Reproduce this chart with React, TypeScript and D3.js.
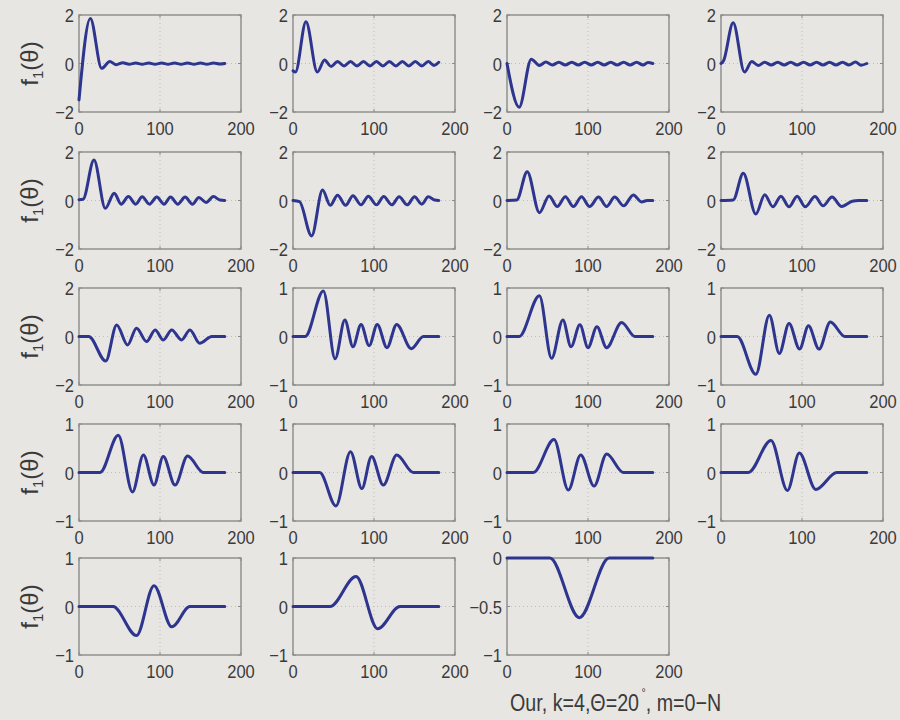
import React from 'react';
import * as d3 from 'd3';

type Pt = [number, number];

// f_1(theta) for m = 0 .. 18, key points [theta (deg), value]
const m0: Pt[] = [[0, -1.5], [14, 1.86], [28, -0.2], [38, 0.08], [46, -0.05], [54, 0.03], [62, -0.03], [70, 0.02], [78, -0.03], [86, 0.02], [94, -0.03], [102, 0.02], [110, -0.03], [118, 0.02], [126, -0.03], [134, 0.02], [142, -0.03], [150, 0.02], [158, -0.03], [166, 0.02], [174, -0.02], [180, 0]];
const m1: Pt[] = [[0, -0.3], [3, -0.35], [16, 1.72], [30, -0.35], [39, 0.14], [47, -0.12], [55, 0.08], [63, -0.1], [71, 0.08], [79, -0.1], [87, 0.08], [95, -0.1], [103, 0.08], [111, -0.1], [119, 0.08], [127, -0.1], [135, 0.08], [143, -0.1], [151, 0.08], [159, -0.1], [167, 0.08], [174, -0.08], [180, 0.05]];
const m2: Pt[] = [[0, 0], [15, -1.8], [30, 0.18], [40, -0.08], [48, 0.06], [56, -0.06], [64, 0.05], [72, -0.06], [80, 0.05], [88, -0.06], [96, 0.05], [104, -0.06], [112, 0.05], [120, -0.06], [128, 0.05], [136, -0.06], [144, 0.05], [152, -0.06], [160, 0.05], [168, -0.06], [174, 0.04], [180, 0]];
const m3: Pt[] = [[0, 0], [3, 0.1], [15, 1.68], [29, -0.35], [38, 0.08], [46, -0.08], [54, 0.05], [62, -0.06], [70, 0.05], [78, -0.06], [86, 0.05], [94, -0.06], [102, 0.05], [110, -0.06], [118, 0.05], [126, -0.06], [134, 0.05], [142, -0.06], [150, 0.05], [158, -0.06], [166, 0.06], [173, -0.07], [180, 0]];
const m4: Pt[] = [[0, 0.03], [5, 0.05], [18.5, 1.67], [32.5, -0.32], [43.5, 0.3], [52, -0.15], [61, 0.16], [70, -0.15], [78, 0.15], [87, -0.15], [96, 0.14], [105, -0.15], [113, 0.14], [122, -0.15], [131, 0.14], [140, -0.15], [148, 0.12], [157, -0.08], [166, 0.16], [174, 0.02], [180, 0]];
const m5: Pt[] = [[0, 0], [8, -0.05], [23, -1.46], [36.5, 0.43], [46, -0.2], [55, 0.22], [65, -0.2], [74, 0.2], [84, -0.18], [93, 0.18], [103, -0.18], [112, 0.16], [122, -0.18], [131, 0.15], [141, -0.18], [150, 0.15], [159, -0.15], [167, 0.15], [175, 0.02], [180, 0]];
const m6: Pt[] = [[0, 0], [12, 0.02], [25, 1.19], [40, -0.5], [52, 0.19], [62, -0.25], [72, 0.15], [82, -0.25], [92, 0.15], [102, -0.25], [113, 0.14], [123, -0.25], [133, 0.14], [144, -0.22], [156, 0.23], [166, -0.06], [173, 0], [180, 0]];
const m7: Pt[] = [[0, 0], [15, 0.02], [27.5, 1.12], [43, -0.56], [54, 0.24], [64, -0.26], [74, 0.18], [84, -0.26], [94, 0.18], [104, -0.26], [116, 0.16], [126, -0.22], [137, 0.14], [149, -0.25], [162, -0.03], [170, 0], [180, 0]];
const m8: Pt[] = [[0, 0], [12, 0], [33, -1.01], [46.5, 0.47], [60, -0.35], [71, 0.34], [83.5, -0.21], [94, 0.27], [104, -0.14], [114.5, 0.27], [126.5, -0.14], [137, 0.27], [149, -0.28], [164, 0], [180, 0]];
const m9: Pt[] = [[0, 0], [15, 0], [37.5, 0.94], [52, -0.46], [64, 0.34], [74, -0.21], [84, 0.25], [94, -0.19], [104, 0.25], [116, -0.23], [128, 0.25], [146, -0.25], [161, 0], [180, 0]];
const m10: Pt[] = [[0, 0], [15, 0], [40, 0.84], [55, -0.45], [69, 0.34], [79, -0.21], [90, 0.24], [100, -0.23], [111, 0.2], [123, -0.23], [141.5, 0.29], [158, 0], [180, 0]];
const m11: Pt[] = [[0, 0], [20, 0], [43, -0.78], [59.7, 0.44], [72, -0.35], [84, 0.27], [97, -0.26], [108, 0.22], [121, -0.26], [135, 0.3], [153, 0], [180, 0]];
const m12: Pt[] = [[0, 0], [26, 0], [48.5, 0.77], [66, -0.4], [79.5, 0.36], [92.6, -0.26], [104, 0.33], [118.6, -0.26], [134, 0.34], [153.5, 0], [180, 0]];
const m13: Pt[] = [[0, 0], [33, 0], [53, -0.69], [71, 0.43], [85, -0.33], [97, 0.33], [111.5, -0.26], [128, 0.36], [148.6, 0], [180, 0]];
const m14: Pt[] = [[0, 0], [32.5, 0], [58, 0.68], [75.7, -0.36], [91, 0.36], [107.5, -0.28], [123, 0.38], [143.6, 0], [180, 0]];
const m15: Pt[] = [[0, 0], [33.7, 0], [61.7, 0.66], [82, -0.37], [96.7, 0.4], [117, -0.35], [143, 0], [180, 0]];
const m16: Pt[] = [[0, 0], [42, 0], [71, -0.6], [92.6, 0.43], [114.5, -0.42], [137, 0], [180, 0]];
const m17: Pt[] = [[0, 0], [45.7, 0], [77.8, 0.62], [104.6, -0.46], [132, 0], [180, 0]];
const m18: Pt[] = [[0, 0], [53, 0], [89.3, -0.615], [126, 0], [180, 0]];

const curves = [m0, m1, m2, m3, m4, m5, m6, m7, m8, m9, m10, m11, m12, m13, m14, m15, m16, m17, m18];

const xDomain: [number, number] = [0, 200];
const xTicks = [0, 100, 200];
const yDomains: [number, number][] = [
  [-2, 2], [-2, 2], [-2, 2], [-2, 2],
  [-2, 2], [-2, 2], [-2, 2], [-2, 2],
  [-2, 2], [-1, 1], [-1, 1], [-1, 1],
  [-1, 1], [-1, 1], [-1, 1], [-1, 1],
  [-1, 1], [-1, 1], [-1, 0],
];
const yTickSets: number[][] = yDomains.map(d => (d[1] === 0 ? [-1, -0.5, 0] : [d[0], 0, d[1]]));

const caption = 'Our, k=4,\u0398=20';

// layout
const W = 900;
const H = 720;
const colLeft = [79, 293, 507, 721];
const rowTop = [15, 152, 288, 424, 558];
const boxW = 162;
const boxH = 97;
const FONT = '"Liberation Sans", Arial, Helvetica, sans-serif';
const LINE = '#2d358e';
const BOX = '#8a8a88';
const TEXT = '#3a3a3a';

const fmt = (v: number) => String(v).replace('-', '\u2212');

function Panel({ data, yDomain, yTicks, left, top }: { data: Pt[]; yDomain: [number, number]; yTicks: number[]; left: number; top: number }) {
  const x = d3.scaleLinear().domain(xDomain).range([left, left + boxW]);
  const y = d3.scaleLinear().domain(yDomain).range([top + boxH, top]);
  const line = d3.line<Pt>().x(d => x(d[0])).y(d => y(d[1])).curve(d3.curveMonotoneX);
  const bottom = top + boxH;
  return (
    <g>
      {/* dotted grid */}
      {xTicks.filter(t => t !== xDomain[0] && t !== xDomain[1]).map(t => (
        <line key={'gx' + t} x1={x(t)} x2={x(t)} y1={top} y2={bottom} stroke="#bdbdbb" strokeWidth={1} strokeDasharray="1,3" />
      ))}
      {yTicks.filter(t => t !== yDomain[0] && t !== yDomain[1]).map(t => (
        <line key={'gy' + t} x1={left} x2={left + boxW} y1={y(t)} y2={y(t)} stroke="#bdbdbb" strokeWidth={1} strokeDasharray="1,3" />
      ))}
      <rect x={left} y={top} width={boxW} height={boxH} fill="none" stroke={BOX} strokeWidth={1.4} />
      {/* inward ticks */}
      {xTicks.map(t => (
        <g key={'tx' + t}>
          <line x1={x(t)} x2={x(t)} y1={bottom} y2={bottom - 3} stroke={BOX} />
          <line x1={x(t)} x2={x(t)} y1={top} y2={top + 3} stroke={BOX} />
        </g>
      ))}
      {yTicks.map(t => (
        <g key={'ty' + t}>
          <line x1={left} x2={left + 3} y1={y(t)} y2={y(t)} stroke={BOX} />
          <line x1={left + boxW} x2={left + boxW - 3} y1={y(t)} y2={y(t)} stroke={BOX} />
        </g>
      ))}
      <path d={line(data) || ''} fill="none" stroke={LINE} strokeWidth={3} strokeLinejoin="round" strokeLinecap="round" />
      {xTicks.map(t => (
        <text key={'lx' + t} transform={`translate(${x(t)},${bottom + 23}) scale(0.87,1)`} textAnchor="middle" fontSize={19} fill={TEXT}>
          {fmt(t)}
        </text>
      ))}
      {yTicks.map(t => (
        <text key={'ly' + t} transform={`translate(${left - 5},${y(t) + 7}) scale(0.87,1)`} textAnchor="end" fontSize={19} fill={TEXT}>
          {fmt(t)}
        </text>
      ))}
    </g>
  );
}

export default function App() {
  return (
    <svg width={W} height={H} style={{ position: 'absolute', left: 0, top: 0 }} fontFamily={FONT}>
      <rect x={0} y={0} width={W} height={H} fill="#e8e6e3" />
      {curves.map((c, i) => (
        <Panel key={i} data={c} yDomain={yDomains[i]} yTicks={yTickSets[i]} left={colLeft[i % 4]} top={rowTop[Math.floor(i / 4)]} />
      ))}
      {rowTop.map((t, r) => (
        <text key={'yl' + r} transform={`translate(38,${t + boxH / 2}) rotate(-90)`} textAnchor="middle" fontSize={24} fill={TEXT}>
          f<tspan fontSize={15} dy={5}>1</tspan>
          <tspan dy={-5}>({'\u03b8'})</tspan>
        </text>
      ))}
      <text transform="translate(510,711) scale(0.82,1)" fontSize={24} fill={TEXT}>
        {caption}
        <tspan fontSize={13} dy={-14} dx={3}>{'\u00b0'}</tspan>
        <tspan dy={14}>, m=0{'\u2212'}N</tspan>
      </text>
    </svg>
  );
}
